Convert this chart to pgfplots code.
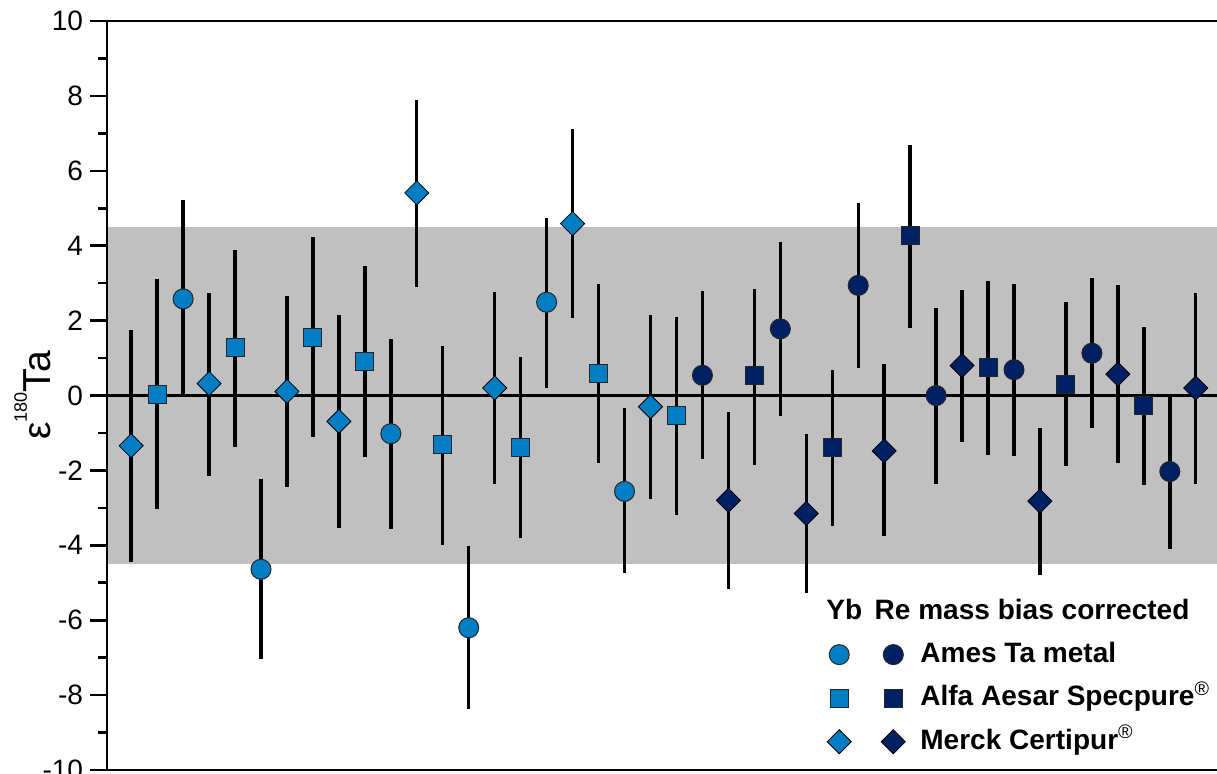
\documentclass[border=0pt]{standalone}
\usepackage{pgfplots}
\pgfplotsset{compat=1.18}
\usepackage{pgfplotstable}
\usepackage{fontspec}
\setmainfont{Liberation Sans}
\definecolor{lb}{RGB}{0,125,195}
\definecolor{db}{RGB}{0,32,100}
\definecolor{band}{RGB}{192,192,192}

% Yb corrected (light blue)
\pgfplotstableread{
x y ep em
3 2.58 2.63 2.61
6 -4.64 2.41 2.40
11 -1.02 2.54 2.54
14 -6.20 2.18 2.17
17 2.49 2.26 2.28
20 -2.56 2.22 2.19
}\lcirc
\pgfplotstableread{
x y ep em
2 0.04 3.06 3.06
5 1.27 2.62 2.65
8 1.56 2.66 2.67
10 0.92 2.55 2.57
13 -1.31 2.63 2.67
16 -1.38 2.41 2.43
19 0.59 2.38 2.40
22 -0.53 2.64 2.67
}\lsq
\pgfplotstableread{
x y ep em
1 -1.34 3.09 3.10
4 0.32 2.41 2.46
7 0.11 2.54 2.54
9 -0.69 2.84 2.86
12 5.41 2.47 2.50
15 0.20 2.57 2.57
18 4.59 2.53 2.53
21 -0.30 2.44 2.46
}\ldia
% Re corrected (dark blue)
\pgfplotstableread{
x y ep em
23 0.54 2.24 2.24
26 1.78 2.32 2.33
29 2.94 2.21 2.20
32 0.00 2.33 2.36
35 0.69 2.29 2.30
38 1.13 2.01 2.01
41 -2.03 2.07 2.08
}\dcirc
\pgfplotstableread{
x y ep em
25 0.53 2.32 2.38
28 -1.38 2.05 2.10
31 4.26 2.44 2.47
34 0.74 2.31 2.32
37 0.30 2.20 2.19
40 -0.26 2.08 2.14
}\dsq
\pgfplotstableread{
x y ep em
24 -2.80 2.35 2.37
27 -3.15 2.13 2.12
30 -1.48 2.31 2.28
33 0.80 2.03 2.04
36 -2.82 1.94 1.97
39 0.57 2.37 2.38
42 0.20 2.53 2.57
}\ddia

\begin{document}
\begin{tikzpicture}
\begin{axis}[
  at={(0pt,0pt)}, anchor=south west,
  scale only axis, width=555pt, height=374pt,
  xmin=0.0745, xmax=42.88, ymin=-10, ymax=10,
  xtick=\empty,
  ytick={-10,-8,...,10},
  minor y tick num=1,
  ytick pos=left,
  tick align=outside,
  major tick length=8.5pt, minor tick length=4.5pt,
  axis line style={line width=1.3pt},
  tick style={line width=1.3pt, black},
  tick label style={font=\fontsize{14}{16}\selectfont},
  /pgf/number format/assume math mode=true,
  axis on top,
  ylabel={\fontsize{19.5}{22}\selectfont ε\raisebox{11.5pt}{\fontsize{9}{10}\selectfont 180}Ta},
  every axis y label/.style={at={(axis description cs:-0.0514,0.5)}, anchor=base, rotate=90},
  errb/.style={only marks, mark=none, forget plot,
    error bars/.cd, y dir=both, y explicit,
    error bar style={line width=1.7pt, black}, error mark=none},
  mk/.style={only marks, mark options={draw=black!85, line width=0.5pt},
    legend image code/.code={\path[draw=none, fill=none] (0pt,-5pt) (17pt,5pt);
      \draw[##1, mark repeat=2, mark phase=2] plot coordinates {(0pt,0pt)(8.5pt,0pt)(17pt,0pt)};}},
  legend columns=2,
  legend cell align=left,
  legend style={draw=none, fill=none, inner sep=0pt,
    at={(rel axis cs:0.643,0.178)}, anchor=north west,
    column sep=3pt, row sep=4.25pt,
    nodes={inner sep=2pt, text height=10.5pt, text depth=3pt,
      font=\bfseries\fontsize{14}{16}\selectfont}},
]
\addplot[fill=band, draw=none, forget plot] coordinates {(-1,-4.5) (44,-4.5) (44,4.5) (-1,4.5)} -- cycle;
\addplot[black, line width=1.3pt, forget plot] coordinates {(-1,0) (44,0)};

\addplot[errb] table[x=x, y=y, y error plus=ep, y error minus=em] {\lcirc};
\addplot[errb] table[x=x, y=y, y error plus=ep, y error minus=em] {\lsq};
\addplot[errb] table[x=x, y=y, y error plus=ep, y error minus=em] {\ldia};
\addplot[errb] table[x=x, y=y, y error plus=ep, y error minus=em] {\dcirc};
\addplot[errb] table[x=x, y=y, y error plus=ep, y error minus=em] {\dsq};
\addplot[errb] table[x=x, y=y, y error plus=ep, y error minus=em] {\ddia};

\addplot[mk, mark=*, mark size=5pt, fill=lb] table[x=x, y=y] {\lcirc};
\addlegendentry{}
\addplot[mk, mark=*, mark size=5pt, fill=db] table[x=x, y=y] {\dcirc};
\addlegendentry{Ames Ta metal}
\addplot[mk, mark=square*, mark size=4.5pt, fill=lb] table[x=x, y=y] {\lsq};
\addlegendentry{}
\addplot[mk, mark=square*, mark size=4.5pt, fill=db] table[x=x, y=y] {\dsq};
\addlegendentry{Alfa Aesar Specpure\textsuperscript{\mdseries ®}}
\addplot[mk, mark=square*, mark size=4.25pt, mark options={rotate=45}, fill=lb] table[x=x, y=y] {\ldia};
\addlegendentry{}
\addplot[mk, mark=square*, mark size=4.25pt, mark options={rotate=45}, fill=db] table[x=x, y=y] {\ddia};
\addlegendentry{Merck Certipur\textsuperscript{\mdseries ®}}

\node[anchor=base west, font=\bfseries\fontsize{14}{16}\selectfont, inner sep=0pt] at (axis cs:27.76,-5.99) {Yb};
\node[anchor=base west, font=\bfseries\fontsize{14}{16}\selectfont, inner sep=0pt] at (axis cs:29.62,-5.99) {Re mass bias corrected};
\end{axis}
\pgfresetboundingbox
\path[use as bounding box] (-53.5pt,-1.5pt) rectangle (554.2pt,384.5pt);
\end{tikzpicture}
\end{document}
